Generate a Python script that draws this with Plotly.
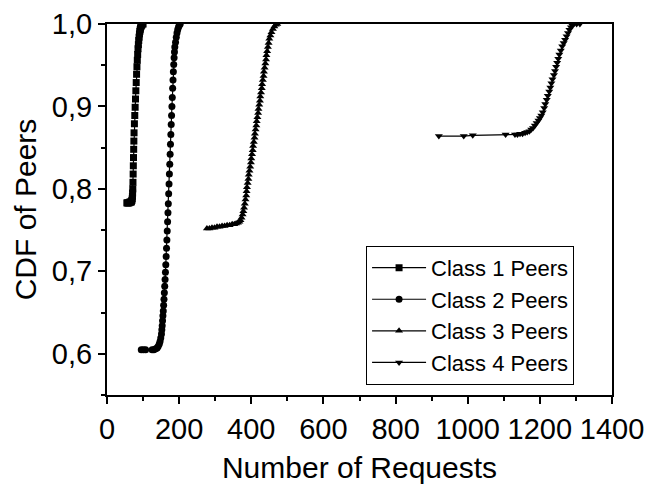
import plotly.graph_objects as go

# Class 1 peers: number of requests vs. cumulative fraction of peers
class1_requests = [55, 57, 59, 61, 63, 65, 67, 68, 69, 70, 70.5, 71, 71.5, 72, 72.5, 73, 73.5, 74, 74.5, 75,
                   76, 77, 78, 79, 80, 81, 82, 83, 84, 85, 86, 87, 88, 89, 90, 91, 92, 93, 94, 95, 97, 100]
class1_cdf = [0.783, 0.783, 0.783, 0.783, 0.784, 0.784, 0.784, 0.785, 0.786, 0.788, 0.791, 0.795, 0.800, 0.808,
              0.818, 0.828, 0.838, 0.848, 0.858, 0.868, 0.879, 0.889, 0.899, 0.909, 0.919, 0.929, 0.939, 0.948,
              0.956, 0.963, 0.970, 0.975, 0.980, 0.984, 0.988, 0.991, 0.993, 0.995, 0.997, 0.998, 0.999, 1.0]

# Class 2 peers
class2_requests = [95, 101, 107, 125, 130, 135, 139, 142, 145, 147, 149, 151, 152, 153, 154, 155, 156, 157, 158,
                   159, 160, 161, 162, 163, 164, 165, 166, 167, 168, 169, 170, 171, 172, 173, 174, 175, 176, 177,
                   178, 179, 180, 181, 182, 183, 184, 185, 186, 187, 188, 190, 192, 194, 196, 198, 200, 203]
class2_cdf = [0.605, 0.605, 0.605, 0.605, 0.605, 0.606, 0.607, 0.609, 0.612, 0.615, 0.619, 0.624, 0.629, 0.634,
              0.640, 0.646, 0.652, 0.659, 0.666, 0.674, 0.682, 0.690, 0.699, 0.708, 0.718, 0.728, 0.738, 0.749,
              0.760, 0.771, 0.782, 0.794, 0.806, 0.818, 0.830, 0.842, 0.854, 0.866, 0.878, 0.889, 0.900, 0.911,
              0.922, 0.932, 0.942, 0.951, 0.959, 0.966, 0.972, 0.978, 0.984, 0.989, 0.993, 0.996, 0.998, 1.0]

# Class 3 peers
class3_requests = [277, 284, 291, 298, 305, 312, 319, 326, 333, 340, 347, 353, 358, 363, 367, 370, 373, 376, 378,
                   380, 382, 384, 386, 387, 388, 390, 392, 393, 395, 397, 399, 400, 402, 404, 405, 407, 409, 410,
                   412, 414, 415, 417, 419, 420, 422, 424, 425, 427, 429, 430, 432, 434, 435, 437, 439, 441, 442,
                   444, 446, 448, 450, 453, 456, 460, 464, 468, 472]
class3_cdf = [0.752, 0.752, 0.753, 0.753, 0.754, 0.754, 0.755, 0.755, 0.756, 0.756, 0.757, 0.757, 0.758, 0.759,
              0.760, 0.762, 0.765, 0.769, 0.773, 0.777, 0.782, 0.787, 0.792, 0.797, 0.802, 0.807, 0.812, 0.817,
              0.822, 0.827, 0.832, 0.837, 0.842, 0.847, 0.852, 0.857, 0.862, 0.867, 0.872, 0.877, 0.882, 0.887,
              0.892, 0.897, 0.902, 0.907, 0.912, 0.917, 0.922, 0.927, 0.932, 0.937, 0.942, 0.947, 0.952, 0.957,
              0.962, 0.967, 0.972, 0.977, 0.982, 0.986, 0.990, 0.994, 0.997, 0.999, 1.0]

# Class 4 peers
class4_requests = [920, 989, 1014, 1105, 1131, 1138, 1145, 1152, 1159, 1165, 1171, 1176, 1181, 1186, 1191, 1196,
                   1200, 1204, 1208, 1212, 1215, 1219, 1222, 1226, 1229, 1232, 1235, 1239, 1242, 1245, 1248, 1251,
                   1254, 1258, 1262, 1266, 1270, 1274, 1278, 1282, 1286, 1290, 1294, 1302, 1311]
class4_cdf = [0.864, 0.864, 0.865, 0.866, 0.866, 0.866, 0.867, 0.867, 0.868, 0.869, 0.870, 0.872, 0.874, 0.877,
              0.880, 0.883, 0.886, 0.889, 0.893, 0.898, 0.903, 0.908, 0.913, 0.918, 0.923, 0.928, 0.933, 0.938,
              0.943, 0.948, 0.953, 0.958, 0.963, 0.968, 0.973, 0.977, 0.981, 0.985, 0.989, 0.993, 0.996, 0.998,
              1.0, 1.0, 1.0]

series_names = ["Class 1 Peers", "Class 2 Peers", "Class 3 Peers", "Class 4 Peers"]
series_symbols = ["square", "circle", "triangle-up", "triangle-down"]

x_ticks = [0, 200, 400, 600, 800, 1000, 1200, 1400]
y_ticks = [0.6, 0.7, 0.8, 0.9, 1.0]
y_tick_labels = ["0,6", "0,7", "0,8", "0,9", "1,0"]

FONT = "Liberation Sans, Arial, sans-serif"

fig = go.Figure()
for name, sym, xs, ys in zip(series_names, series_symbols,
                             [class1_requests, class2_requests, class3_requests, class4_requests],
                             [class1_cdf, class2_cdf, class3_cdf, class4_cdf]):
    fig.add_trace(go.Scatter(
        x=xs, y=ys, name=name, mode="lines+markers",
        line=dict(color="black", width=1.2),
        marker=dict(symbol=sym, size=7, color="black", line=dict(width=0)),
    ))

axis_common = dict(
    showline=True, linecolor="black", linewidth=2, mirror=True,
    ticks="outside", ticklen=7, tickwidth=1.5, tickcolor="black",
    showgrid=False, zeroline=False, automargin=False,
    tickfont=dict(family=FONT, size=29, color="black"),
)

fig.update_xaxes(
    range=[0, 1400], tickvals=x_ticks,
    minor=dict(dtick=100, ticks="outside", ticklen=4, tickwidth=1.5, tickcolor="black"),
    title=dict(text="Number of Requests", font=dict(family=FONT, size=30, color="black"), standoff=16),
    **axis_common,
)
fig.update_yaxes(
    range=[0.55, 1.0], tickvals=y_ticks, ticktext=y_tick_labels,
    minor=dict(dtick=0.05, ticks="outside", ticklen=4, tickwidth=1.5, tickcolor="black"),
    title=dict(text="CDF of Peers", font=dict(family=FONT, size=30, color="black"), standoff=6),
    **axis_common,
)

fig.update_layout(
    width=646, height=484,
    margin=dict(l=107, r=34, t=24, b=89, autoexpand=False),
    paper_bgcolor="white", plot_bgcolor="white",
    showlegend=True,
    legend=dict(
        x=0.513, y=0.402, xanchor="left", yanchor="top",
        bgcolor="white", bordercolor="black", borderwidth=1,
        font=dict(family=FONT, size=22, color="black"),
        tracegroupgap=0, itemwidth=54,
    ),
)

fig.write_html("out.html")
